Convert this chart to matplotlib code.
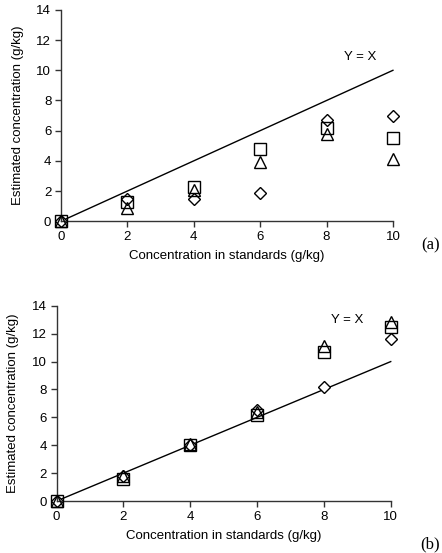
#!/usr/bin/env python

import numpy as np
import matplotlib
import matplotlib.pyplot as plt

matplotlib.use("Agg")

# standards (g/kg)
x_std = [0, 2, 4, 6, 8, 10]

# panel (a)
a_diamond = [0.0, 1.45, 1.5, 1.9, 6.7, 6.95]
a_square = [0.0, 1.25, 2.25, 4.8, 6.2, 5.5]
a_triangle = [0.0, 0.85, 2.05, 3.9, 5.8, 4.1]

# panel (b)
b_diamond = [0.0, 1.8, 4.0, 6.5, 8.15, 11.65]
b_square = [0.0, 1.6, 4.0, 6.2, 10.7, 12.5]
b_triangle = [0.0, 1.8, 4.1, 6.4, 11.1, 12.85]

y_ticks = [0, 2, 4, 6, 8, 10, 12, 14]


def draw_panel(ax, diamond, square, triangle, yx_pos):
  ax.plot([0, 10], [0, 10], color='black', lw=1.0, zorder=1)
  ax.plot(x_std, diamond, ls='none', marker='D', ms=6.5, mfc='white', mec='black', mew=1.0, zorder=2)
  ax.plot(x_std, square, ls='none', marker='s', ms=8, mfc='none', mec='black', mew=1.0, zorder=3)
  ax.plot(x_std, triangle, ls='none', marker='^', ms=8.5, mfc='none', mec='black', mew=1.0, zorder=3)
  ax.text(yx_pos[0], yx_pos[1], 'Y = X', ha='center', va='center', fontsize=9.5)
  ax.set_xlim(0, 10)
  ax.set_ylim(0, 14)
  ax.set_xticks(x_std)
  ax.set_yticks(y_ticks)
  for side in ['top', 'right']:
    ax.spines[side].set_visible(False)
  for side in ['left', 'bottom']:
    ax.spines[side].set_color('#333333')
    ax.spines[side].set_linewidth(1.0)
  ax.tick_params(direction='out', length=4, width=1.0, color='#333333', labelsize=9.5, pad=3)
  ax.set_xlabel('Concentration in standards (g/kg)', fontsize=9.5, labelpad=5)
  ax.set_ylabel('Estimated concentration (g/kg)', fontsize=9.5, labelpad=9)
  for l in ax.lines:
    l.set_clip_on(False)


def main():
  plt.rcParams['font.family'] = ['Liberation Sans', 'DejaVu Sans']

  fig = plt.figure(figsize=(4.42, 5.53), dpi=100)

  ax_a = fig.add_axes([0.138, 0.600, 0.751, 0.382])
  draw_panel(ax_a, a_diamond, a_square, a_triangle, (9.0, 10.9))

  ax_b = fig.add_axes([0.128, 0.094, 0.756, 0.353])
  draw_panel(ax_b, b_diamond, b_square, b_triangle, (8.7, 13.0))

  fig.text(0.973, 0.557, '(a)', ha='center', va='center', fontsize=12, family='Liberation Serif')
  fig.text(0.973, 0.002, '(b)', ha='center', va='bottom', fontsize=12, family='Liberation Serif')

  fig.savefig('out.png', dpi=100)


if __name__ == '__main__':
  main()
